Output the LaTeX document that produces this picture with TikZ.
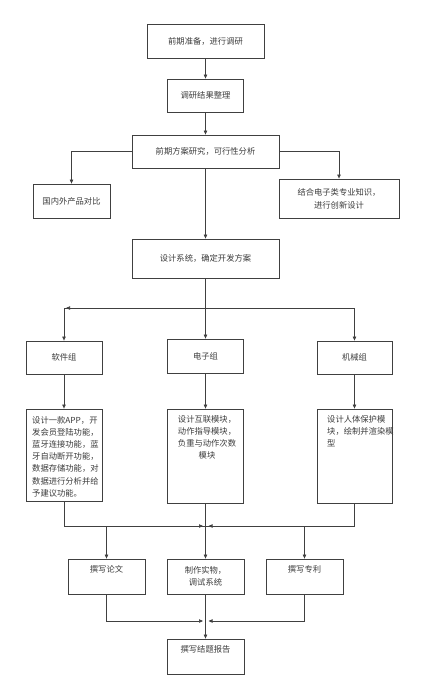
\documentclass[tikz,border=0pt]{standalone}
\usepackage{fontspec}
\setmainfont{Noto Sans CJK SC}
\usetikzlibrary{arrows.meta,calc}
\definecolor{linec}{HTML}{404040}
\definecolor{textc}{HTML}{3C3C3C}
\newcommand\myfs{\fontsize{8.3}{12.2}\selectfont}
\begin{document}
\begin{tikzpicture}[x=1pt,y=-1pt,
  box/.style={draw=linec, line width=0.8pt, inner sep=0pt, fill=white, text=textc, font=\myfs, align=center},
  txt/.style={inner sep=0pt, text=textc, font=\myfs},
  arr/.style={draw=linec, line width=0.7pt, -{Triangle[length=4pt,width=3.4pt]}}]
\fill[white] (0,0) rectangle (425,699);
\useasboundingbox (0,0) rectangle (425,699);
% top chain
\node[box, minimum width=117pt, minimum height=34pt] (b1) at (205.5,41) {前期准备，进行调研};
\node[box, minimum width=76pt, minimum height=33pt] (b2) at (205.5,95.5) {调研结果整理};
\node[box, minimum width=147pt, minimum height=33pt] (b3) at (205.5,151.5) {前期方案研究，可行性分析};
\node[box, minimum width=77pt, minimum height=34pt] (b4) at (71.5,201) {国内外产品对比};
\node[box, minimum width=120pt, minimum height=39pt, font=\fontsize{8.3}{13}\selectfont] (b5) at (339,198.5) {结合电子类专业知识，\\进行创新设计};
\node[box, minimum width=147pt, minimum height=39pt] (b6) at (205.5,258.5) {设计系统，确定开发方案};
% groups
\node[box, minimum width=76pt, minimum height=33pt] (g1) at (64,357.5) {软件组};
\node[box, minimum width=76pt, minimum height=34pt] (g2) at (205.5,356) {电子组};
\node[box, minimum width=75pt, minimum height=33pt] (g3) at (354.5,357.5) {机械组};
% descriptions
\node[box, minimum width=76pt, minimum height=92pt] (d1) at (64,455) {};
\node[box, minimum width=76pt, minimum height=94pt] (d2) at (205.5,456) {};
\node[box, minimum width=75pt, minimum height=94pt] (d3) at (354.5,456) {};
\node[txt, anchor=north west, align=left] (d1t) at (32,416) {设计一款APP，开\\发会员登陆功能，\\蓝牙连接功能，蓝\\牙自动断开功能，\\数据存储功能，对\\数据进行分析并给\\予建议功能。};
\node[txt, anchor=north, align=center] (d2t) at (207,415) {设计互联模块，\\动作指导模块，\\负重与动作次数\\模块};
\node[txt, anchor=north west, align=left] (d3t) at (327,415) {设计人体保护模\\块，绘制并渲染模\\型};
% outputs
\node[box, minimum width=77pt, minimum height=35pt] (e1) at (106.5,576.5) {};
\node[box, minimum width=77pt, minimum height=35pt, font=\fontsize{8.3}{11.6}\selectfont] (e2) at (205.5,576.5) {制作实物，\\调试系统};
\node[box, minimum width=77pt, minimum height=35pt] (e3) at (304.5,576.5) {};
\node[txt] (e1t) at ($(e1.north)+(0,10.5)$) {撰写论文};
\node[txt] (e3t) at ($(e3.north)+(0,10.5)$) {撰写专利};
\node[box, minimum width=77pt, minimum height=35pt] (f) at (205.5,656.5) {};
\node[txt] (ft) at ($(f.north)+(0,11)$) {撰写结题报告};
% junctions
\coordinate (j1) at (205.5,308);
\coordinate (c1) at (66,308);
\coordinate (j2) at (205.5,526);
\coordinate (j2l) at (203,526);
\coordinate (j2r) at (208.5,526);
\coordinate (j3) at (205.5,621);
\coordinate (j3l) at (203,621);
\coordinate (j3r) at (208.5,621);
% connectors
\draw[arr] (b1.south) -- (b2.north);
\draw[arr] (b2.south) -- (b3.north);
\draw[arr] (b3.west) -| (b4.north);
\draw[arr] (b3.east) -| (b5.north);
\draw[arr] (b3.south) -- (b6.north);
\draw[arr] (b6.south) -- (g2.north);
\draw[arr] (j1) -| (g1.north);
\draw[arr] (j1) -- (c1);
\draw[arr] (j1) -| (g3.north);
\draw[arr] (g1.south) -- (d1.north);
\draw[arr] (g2.south) -- (d2.north);
\draw[arr] (g3.south) -- (d3.north);
\draw[arr] (d1.south) |- (j2l);
\draw[arr] (d3.south) |- (j2r);
\draw[arr] (d2.south) -- (e2.north);
\draw[arr] (j2) -| (e1.north);
\draw[arr] (j2) -| (e3.north);
\draw[arr] (e1.south) |- (j3l);
\draw[arr] (e3.south) |- (j3r);
\draw[arr] (e2.south) -- (f.north);
\end{tikzpicture}
\end{document}
